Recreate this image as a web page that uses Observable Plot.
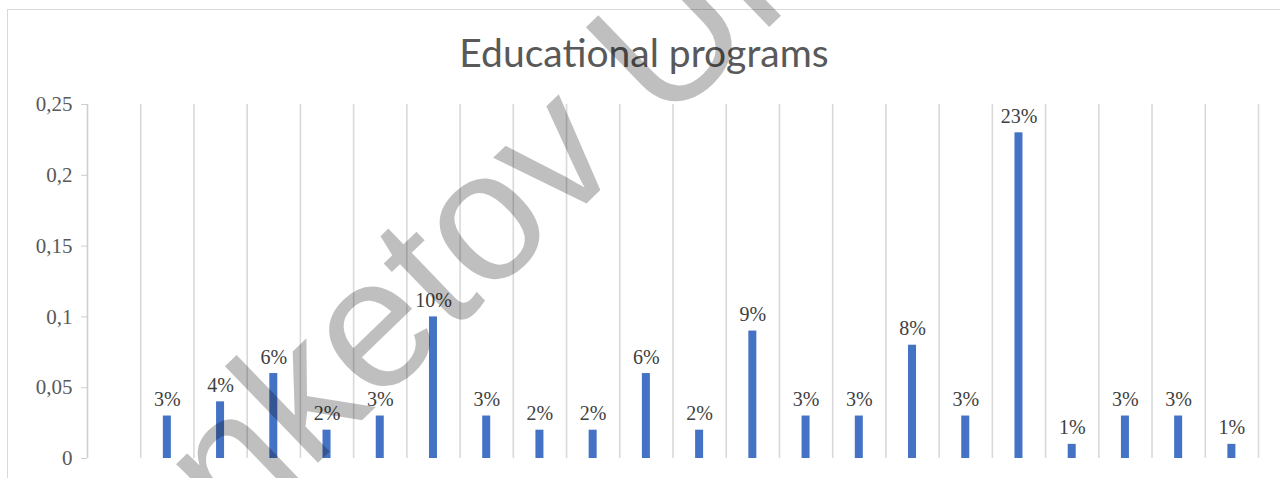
<!DOCTYPE html>
<html><head><meta charset="utf-8">
<script src="https://cdn.jsdelivr.net/npm/d3@7"></script>
<script src="https://cdn.jsdelivr.net/npm/@observablehq/plot@0.6"></script>
<style>
body{margin:0;background:#fff;overflow:hidden}
#wrap{position:relative;width:1280px;height:478px;overflow:hidden;background:#fff}
#frame{position:absolute;left:7px;top:9px;width:1320px;height:520px;border:1px solid #d9d9d9;box-sizing:border-box}
#title{height:70px;box-sizing:border-box;padding-top:22px;line-height:40px;text-align:center;font-family:Lato,"Open Sans",sans-serif;font-size:39px;color:#595959;width:1272px;white-space:nowrap}
#chart svg{display:block}
#wm{position:absolute;left:0;top:0;pointer-events:none}
</style></head><body>
<div id="wrap">
  <div id="frame">
    <div id="title">Educational programs</div>
    <div id="chart"></div>
  </div>
  <svg id="wm" width="1280" height="478"></svg>
</div>
<script>
const categories = ["P1","P2","P3","P4","P5","P6","P7","P8","P9","P10","P11","P12","P13","P14","P15","P16","P17","P18","P19","P20","P21","P22"];
const values = [null,0.03,0.04,0.06,0.02,0.03,0.10,0.03,0.02,0.02,0.06,0.02,0.09,0.03,0.03,0.08,0.03,0.23,0.01,0.03,0.03,0.01];
const valueLabels = ["","3%","4%","6%","2%","3%","10%","3%","2%","2%","6%","2%","9%","3%","3%","8%","3%","23%","1%","3%","3%","1%"];
const yTicks = [0,0.05,0.1,0.15,0.2,0.25];
const yTickLabels = ["0","0,05","0,1","0,15","0,2","0,25"];
const watermarkText = "nketov Ul";

const data = categories.map((c,i)=>({cat:c, value:values[i], label:valueLabels[i]}));
const bars = data.filter(d=>d.value!=null);

const W = 1272, H = 398, mL = 79, mR = 22, mT = 24, mB = 20;
const bw = (W - mL - mR) / categories.length;
const serif = "'Liberation Serif','Times New Roman',serif";

const chart = Plot.plot({
  width: W, height: H,
  marginLeft: mL, marginRight: mR, marginTop: mT, marginBottom: mB,
  style: {background:"transparent", overflow:"visible"},
  x: {type:"band", domain: categories, padding: 0, round: false, axis: null},
  y: {domain:[0,0.25], axis: null},
  marks: [
    Plot.ruleX(categories.slice(1), {x: d=>d, dx: -bw/2, y1: 0, y2: 0.25, stroke:"#d9d9d9", strokeWidth:1.6}),
    Plot.ruleX([categories[categories.length-1]], {x: d=>d, dx: bw/2, y1: 0, y2: 0.25, stroke:"#d9d9d9", strokeWidth:1.6}),
    Plot.ruleX([categories[0]], {x: d=>d, dx: -bw/2, y1: 0, y2: 0.25, stroke:"#cfcfcf", strokeWidth:1.6}),
    Plot.axisY({ticks: yTicks, tickFormat: d=>yTickLabels[yTicks.indexOf(d)], tickSize: 6, tickPadding: 9, label: null,
      stroke:"#cfcfcf", color:"#595959", fill:"#595959", fontSize: 21, fontFamily: serif}),
    Plot.barY(bars, {x:"cat", y:"value", fill:"#4472C4", insetLeft:(bw-8)/2, insetRight:(bw-8)/2}),
    Plot.text(bars, {x:"cat", y:"value", text:"label", lineAnchor:"bottom", dy:-10, fontSize:20, fontFamily: serif, fill:"#404040"})
  ]
});
document.getElementById("chart").appendChild(chart);

d3.select("#wm").append("text")
  .attr("transform", "translate(235,543) rotate(-44)")
  .attr("font-family", "'Liberation Sans',Arial,sans-serif")
  .attr("font-size", 185)
  .attr("fill", "#000")
  .attr("fill-opacity", 0.25)
  .text(watermarkText);
</script>
</body></html>
